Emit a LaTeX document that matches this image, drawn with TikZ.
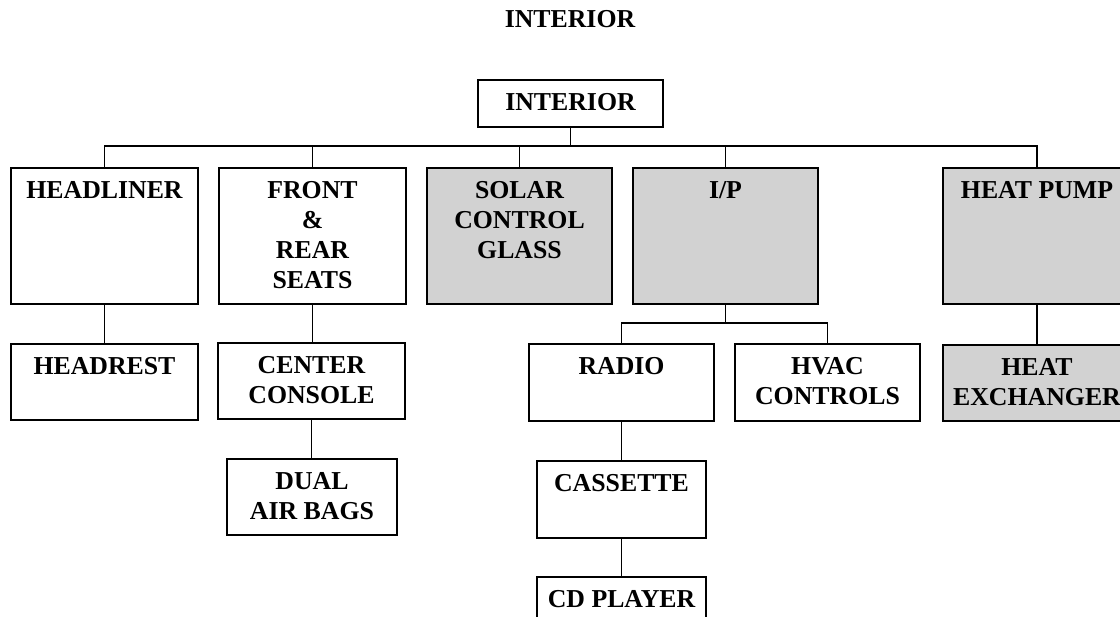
\documentclass[tikz,border=0pt]{standalone}
\usepackage{fontspec}
\setmainfont{Liberation Serif}
\definecolor{shadegray}{RGB}{210,210,210}
\begin{document}
\begin{tikzpicture}[x=1pt,y=-1pt,
  box/.style={draw, line width=2pt, inner sep=0pt, anchor=north west},
  shaded/.style={box, fill=shadegray},
  boxtext/.style={font=\fontsize{25.8}{30}\selectfont\bfseries, align=center, anchor=north, inner sep=0pt, yshift=-14pt},
  link/.style={line width=1.9pt}]
\useasboundingbox (0,0) rectangle (1120,617);
\clip (0,0) rectangle (1120,617);

\node[font=\fontsize{25.8}{30}\selectfont\bfseries, anchor=base] (title) at (570,28) {INTERIOR};

\node[box, minimum width=185pt, minimum height=47pt, label={[boxtext]north:INTERIOR}] (top) at (477,79) {};

\node[box, minimum width=187pt, minimum height=136pt, label={[boxtext]north:HEADLINER}] (hl) at (10,167) {};
\node[box, minimum width=187pt, minimum height=136pt, label={[boxtext]north:FRONT\\\&\\REAR\\SEATS}] (seats) at (218,167) {};
\node[shaded, minimum width=185pt, minimum height=136pt, label={[boxtext]north:SOLAR\\CONTROL\\GLASS}] (solar) at (426,167) {};
\node[shaded, minimum width=185pt, minimum height=136pt, label={[boxtext]north:I/P}] (ip) at (632,167) {};
\node[shaded, minimum width=188pt, minimum height=136pt, label={[boxtext]north:HEAT PUMP}] (hp) at (942,167) {};

\node[box, minimum width=187pt, minimum height=76pt, label={[boxtext]north:HEADREST}] (headrest) at (10,343) {};
\node[box, minimum width=187pt, minimum height=76pt, label={[boxtext]north:CENTER\\CONSOLE}] (console) at (217,342) {};
\node[box, minimum width=170pt, minimum height=76pt, label={[boxtext]north:DUAL\\AIR BAGS}] (airbags) at (226,458) {};
\node[box, minimum width=185pt, minimum height=77pt, label={[boxtext]north:RADIO}] (radio) at (528,343) {};
\node[box, minimum width=185pt, minimum height=77pt, label={[boxtext]north:HVAC\\CONTROLS}] (hvac) at (734,343) {};
\node[shaded, minimum width=188pt, minimum height=76pt, label={[boxtext]north:HEAT\\EXCHANGER}] (hx) at (942,344) {};
\node[box, minimum width=169pt, minimum height=77pt, label={[boxtext]north:CASSETTE}] (cassette) at (536,460) {};
\node[box, minimum width=169pt, minimum height=60pt, label={[boxtext]north:CD PLAYER}] (cd) at (536,576) {};

\coordinate (bus) at (569.5,146);
\coordinate (bus2) at (724.5,323);

\draw[link] (top.south) -- (top.south |- bus);
\draw[link] (hl.north) -- (hl.north |- bus) -- (hp.north |- bus) -- (hp.north);
\draw[link] (seats.north) -- (seats.north |- bus);
\draw[link] (solar.north) -- (solar.north |- bus);
\draw[link] (ip.north) -- (ip.north |- bus);

\draw[link] (ip.south) -- (ip.south |- bus2);
\draw[link] (radio.north) -- (radio.north |- bus2) -- (hvac.north |- bus2) -- (hvac.north);

\draw[link] (hl.south) -- (headrest.north);
\draw[link] (seats.south) -- (seats.south |- console.north);
\draw[link] (console.south) -- (console.south |- airbags.north);
\draw[link] (radio.south) -- (cassette.north);
\draw[link] (cassette.south) -- (cd.north);
\draw[link] (hp.south) -- (hx.north);
\end{tikzpicture}
\end{document}
